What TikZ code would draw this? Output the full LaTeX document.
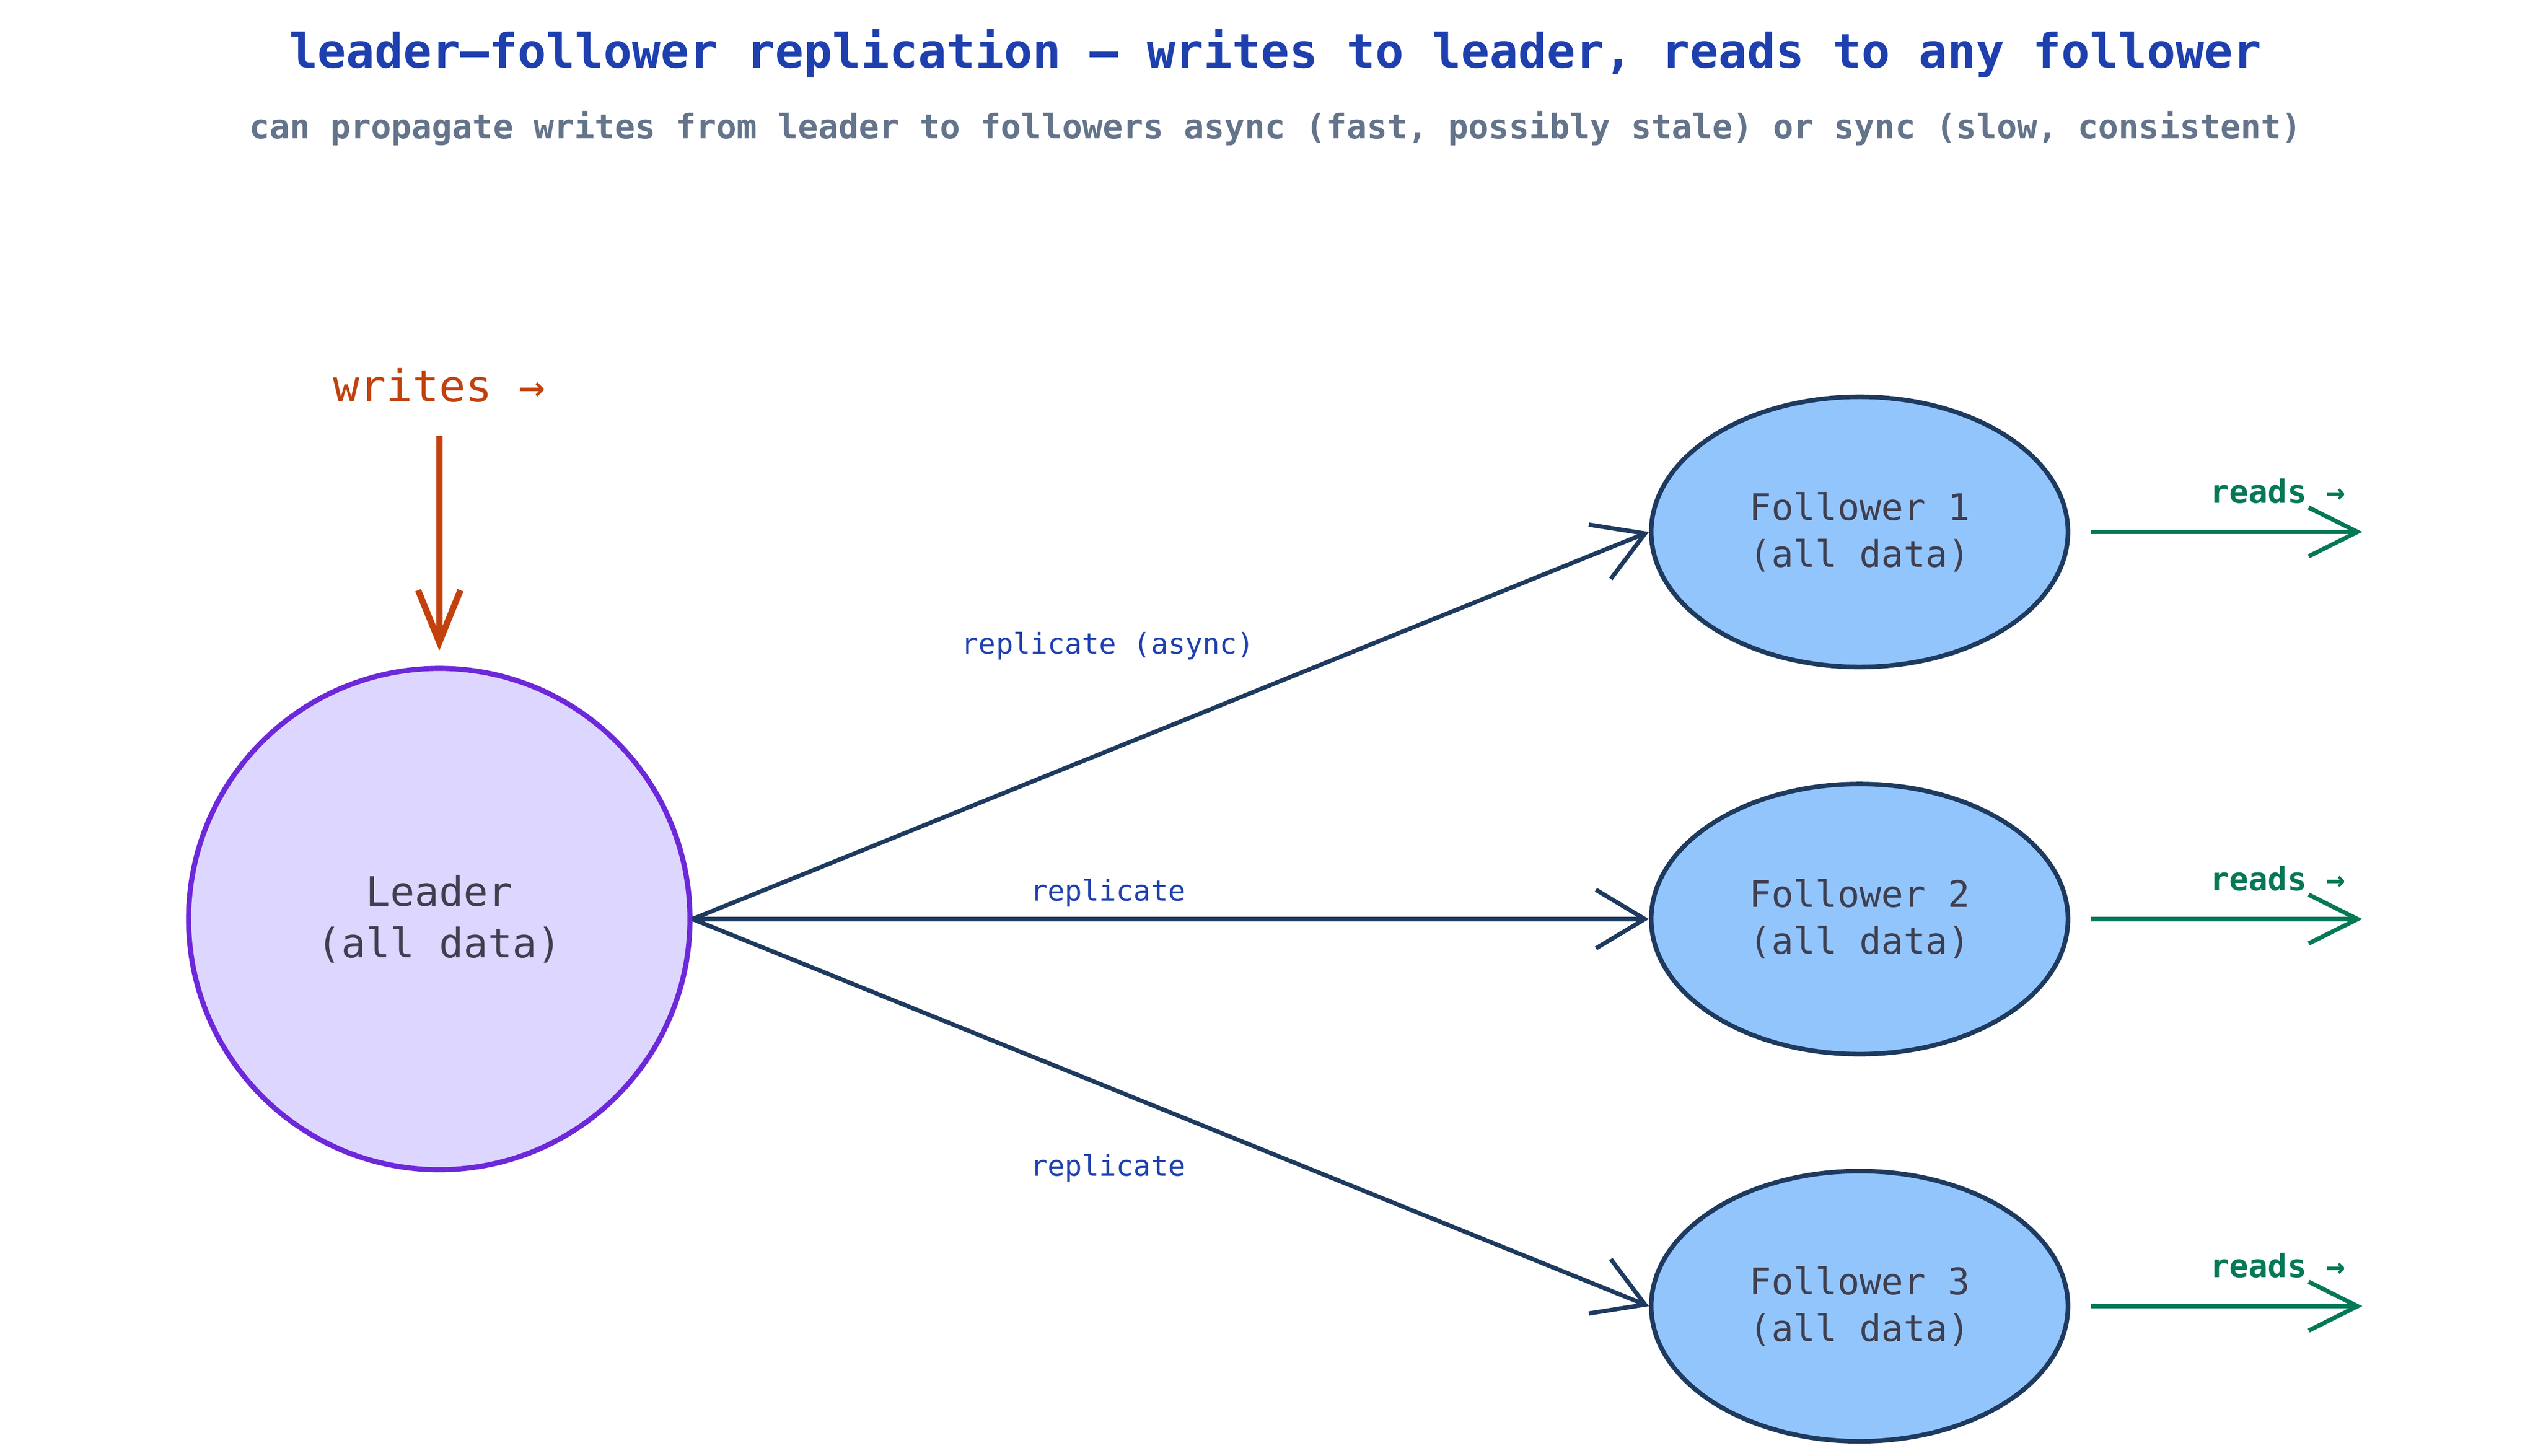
\documentclass[tikz,border=0pt]{standalone}
\usepackage{fontspec}
\setmonofont{DejaVu Sans Mono}
\usetikzlibrary{arrows.meta}
\definecolor{ttl}{HTML}{1E40AF}
\definecolor{sub}{HTML}{64748B}
\definecolor{ldf}{HTML}{DDD6FE}
\definecolor{lds}{HTML}{6D28D9}
\definecolor{flf}{HTML}{93C5FD}
\definecolor{edg}{HTML}{1E3A5F}
\definecolor{txt}{HTML}{3F3F4F}
\definecolor{wr}{HTML}{C2410C}
\definecolor{rd}{HTML}{047857}
\tikzset{
  x=0.01cm,y=-0.01cm,
  every node/.style={font=\ttfamily},
  fol/.style={ellipse,draw=edg,fill=flf,line width=0.8pt,minimum width=256\pgflinewidth,text=txt,align=center,font=\ttfamily\fontsize{6.4pt}{8.2pt}\selectfont},
  rep/.style={draw=edg,line width=0.75pt,-{Straight Barb[length=0.3cm,width=0.36cm,line width=0.75pt]}},
  repl/.style={text=ttl,font=\ttfamily\fontsize{5pt}{6pt}\selectfont},
  rdarr/.style={draw=rd,line width=0.75pt,-{Straight Barb[length=0.3cm,width=0.3cm,line width=0.75pt]}},
  rdl/.style={text=rd,font=\ttfamily\bfseries\fontsize{5.6pt}{7pt}\selectfont},
}
\usetikzlibrary{shapes.geometric}
\begin{document}
\begin{tikzpicture}
\useasboundingbox (0,0) rectangle (1560,895);
\node[text=ttl,font=\ttfamily\bfseries\fontsize{8.3pt}{10pt}\selectfont] (title) at (784,33) {leader–follower replication — writes to leader, reads to any follower};
\node[text=sub,font=\ttfamily\bfseries\fontsize{5.9pt}{7pt}\selectfont] (subt) at (784,79) {can propagate writes from leader to followers async (fast, possibly stale) or sync (slow, consistent)};
\node[circle,draw=lds,fill=ldf,line width=0.9pt,minimum size=3.08cm,inner sep=0pt,text=txt,align=center,font=\ttfamily\fontsize{7.1pt}{9pt}\selectfont] (L) at (270,565) {Leader\\(all data)};
\foreach \i/\y in {1/327,2/565,3/803}{
  \node[ellipse,draw=edg,fill=flf,line width=0.8pt,minimum width=2.56cm,minimum height=1.66cm,inner sep=0pt,text=txt,align=center,font=\ttfamily\fontsize{6.4pt}{8.2pt}\selectfont] (f\i) at (1143,\y) {Follower \i\\(all data)};
  \coordinate (rs\i) at (1285,\y);
  \coordinate (re\i) at (1452,\y);
  \draw[rdarr] (rs\i) -- (re\i);
  \node[rdl] (rl\i) at (1400,\y-25) {reads →};
}
\draw[rep] (L.east) -- (f1.west);
\draw[rep] (L.east) -- (f2.west);
\draw[rep] (L.east) -- (f3.west);
\node[repl] (r1) at (681,397) {replicate (async)};
\node[repl] (r2) at (681,549) {replicate};
\node[repl] (r3) at (681,718) {replicate};
\node[text=wr,font=\ttfamily\fontsize{7.7pt}{9pt}\selectfont] (w) at (270,237) {writes →};
\coordinate (ws) at (270,268);
\draw[draw=wr,line width=1.1pt,-{Straight Barb[length=0.32cm,width=0.26cm,line width=1.1pt]}] (ws) -- (L.north |- 0,400);
\end{tikzpicture}
\end{document}
